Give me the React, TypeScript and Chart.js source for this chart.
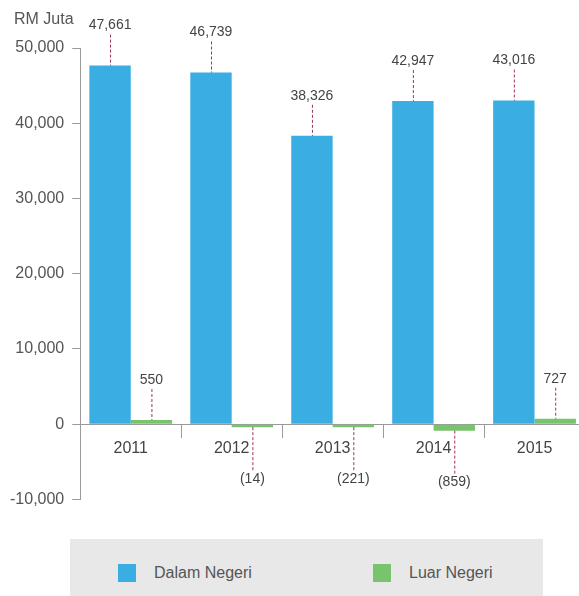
import React, { useEffect, useRef } from "react";
import { Chart, registerables } from "chart.js";

Chart.register(...registerables);

const years = ["2011", "2012", "2013", "2014", "2015"];
const dalamNegeri = [47661, 46739, 38326, 42947, 43016];
const luarNegeri = [550, -14, -221, -859, 727];
const seriesNames = ["Dalam Negeri", "Luar Negeri"];
const seriesColors = ["#3aaee3", "#78c46d"];
const unitLabel = "RM Juta";

const FONT = "'Liberation Sans', Arial, sans-serif";

const fmt = (v: number) =>
  v < 0 ? `(${Math.abs(v).toLocaleString("en-US")})` : v.toLocaleString("en-US");

const labelPlugin = {
  id: "valueLabels",
  afterDatasetsDraw(chart: any) {
    const ctx = chart.ctx;
    ctx.save();
    ctx.font = `14px ${FONT}`;
    ctx.textAlign = "center";
    ctx.textBaseline = "middle";
    chart.data.datasets.forEach((ds: any, di: number) => {
      const meta = chart.getDatasetMeta(di);
      meta.data.forEach((el: any, i: number) => {
        const v = ds.data[i];
        const x = el.x;
        let ty: number;
        ctx.strokeStyle = "#a0305e";
        ctx.lineWidth = 1;
        ctx.setLineDash([3, 2]);
        ctx.beginPath();
        if (v >= 0) {
          ty = el.y - 40;
          ctx.moveTo(x + 0.5, ty + 9);
          ctx.lineTo(x + 0.5, el.y);
        } else {
          ty = el.y + 52;
          ctx.moveTo(x + 0.5, el.y);
          ctx.lineTo(x + 0.5, ty - 9);
        }
        ctx.stroke();
        ctx.setLineDash([]);
        ctx.fillStyle = "#444";
        ctx.fillText(fmt(v), x, ty);
      });
    });
    ctx.font = `16px ${FONT}`;
    ctx.textAlign = "left";
    ctx.fillStyle = "#555";
    ctx.fillText(unitLabel, 14, 20);
    ctx.restore();
  },
};

export default function App() {
  const ref = useRef<HTMLCanvasElement>(null);
  useEffect(() => {
    if (!ref.current) return;
    const chart = new Chart(ref.current, {
      type: "bar",
      data: {
        labels: years,
        datasets: [
          {
            label: seriesNames[0],
            data: dalamNegeri,
            backgroundColor: seriesColors[0],
            categoryPercentage: 0.82,
            barPercentage: 1,
            minBarLength: 3,
          },
          {
            label: seriesNames[1],
            data: luarNegeri,
            backgroundColor: seriesColors[1],
            categoryPercentage: 0.82,
            barPercentage: 1,
            minBarLength: 3,
          },
        ],
      },
      options: {
        animation: false,
        responsive: false,
        maintainAspectRatio: false,
        layout: { padding: { top: 48, left: 2, right: 5, bottom: 12 } },
        plugins: {
          legend: { display: false },
          tooltip: { enabled: false },
        },
        scales: {
          x: {
            position: { y: 0 } as any,
            offset: true,
            grid: {
              display: true,
              offset: true,
              drawOnChartArea: false,
              drawTicks: true,
              tickLength: 13,
              color: "#9a9a9a",
            },
            border: { display: true, color: "#9a9a9a" },
            ticks: {
              font: { family: FONT, size: 16 },
              color: "#444",
              padding: 2,
            },
          },
          y: {
            min: -10000,
            max: 50000,
            grid: {
              drawOnChartArea: false,
              drawTicks: true,
              tickLength: 8,
              color: "#9a9a9a",
            },
            border: { display: true, color: "#9a9a9a" },
            ticks: {
              stepSize: 10000,
              padding: 8,
              font: { family: FONT, size: 16 },
              color: "#555",
              callback: (v: any) => Number(v).toLocaleString("en-US"),
            },
          },
        },
      },
      plugins: [labelPlugin],
    });
    return () => chart.destroy();
  }, []);

  return (
    <div
      style={{
        position: "fixed",
        left: 0,
        top: 0,
        width: 579,
        height: 596,
        overflow: "hidden",
        background: "#fff",
        fontFamily: FONT,
      }}
    >
      <canvas
        ref={ref}
        width={590}
        height={517}
        style={{ position: "absolute", left: 0, top: 0, width: 590, height: 517 }}
      />
      <div
        style={{
          position: "absolute",
          left: 70,
          top: 539,
          width: 473,
          height: 57,
          background: "#e8e8e8",
        }}
      >
        {seriesNames.map((name, i) => (
          <div
            key={name}
            style={{
              position: "absolute",
              left: i === 0 ? 48 : 303,
              top: 25,
              display: "flex",
              alignItems: "center",
            }}
          >
            <span
              style={{
                display: "inline-block",
                width: 18,
                height: 18,
                background: seriesColors[i],
                marginRight: 18,
              }}
            />
            <span style={{ fontSize: 16, color: "#555", lineHeight: "18px" }}>{name}</span>
          </div>
        ))}
      </div>
    </div>
  );
}
